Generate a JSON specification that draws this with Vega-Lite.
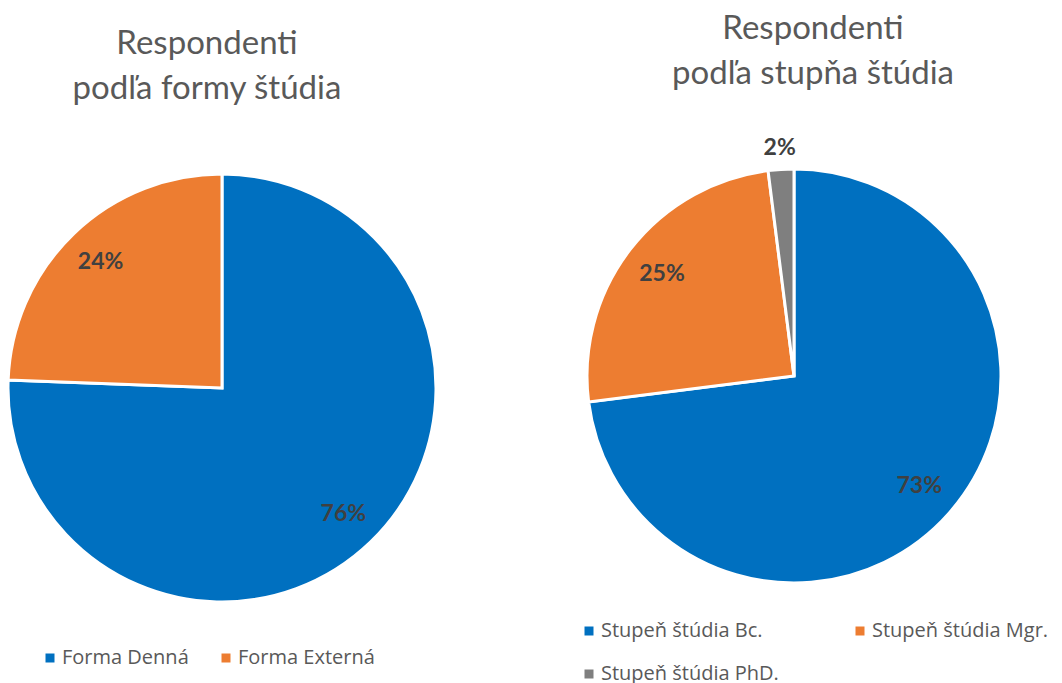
{
  "$schema": "https://vega.github.io/schema/vega-lite/v6.json",
  "background": "white",
  "padding": {"top": 13, "left": 0, "right": 0, "bottom": 0},
  "spacing": 135,
  "config": {"view": {"stroke": null}},
  "resolve": {"scale": {"color": "independent", "theta": "independent"}, "legend": {"color": "independent"}},
  "hconcat": [
    {
      "width": 444,
      "height": 454,
      "title": {"text": ["Respondenti", "podľa formy štúdia"], "font": "Lato", "fontSize": 33, "fontWeight": "normal", "color": "#595959", "lineHeight": 45, "anchor": "middle", "dx": -15, "offset": 55},
      "data": {"values": [
        {"forma": "Forma Denná", "podiel": 0.756},
        {"forma": "Forma Externá", "podiel": 0.244}
      ]},
      "encoding": {
        "theta": {"field": "podiel", "type": "quantitative", "stack": true},
        "order": {"field": "forma", "type": "ordinal", "sort": "ascending"},
        "color": {
          "field": "forma", "type": "nominal",
          "scale": {"domain": ["Forma Denná", "Forma Externá"], "range": ["#0070C0", "#ED7D31"]},
          "legend": {"orient": "none", "legendX": 40, "legendY": 487, "direction": "horizontal", "title": null, "symbolType": "square", "symbolSize": 81, "symbolStrokeWidth": 0, "labelFontSize": 20, "labelFont": "Open Sans", "labelColor": "#595959", "columnPadding": 27, "labelOffset": 2, "padding": 0, "labelLimit": 300}
        }
      },
      "layer": [
        {"mark": {"type": "arc", "outerRadius": 214, "stroke": "white", "strokeWidth": 3}},
        {
          "mark": {"type": "text", "radius": 175, "font": "Lato", "fontWeight": "bold", "fontSize": 23},
          "encoding": {
            "text": {"field": "podiel", "type": "quantitative", "format": ".0%"},
            "detail": {"field": "forma", "type": "nominal"},
            "color": {"value": "#404040"}
          }
        }
      ]
    },
    {
      "width": 420,
      "height": 430,
      "title": {"text": ["Respondenti", "podľa stupňa štúdia"], "font": "Lato", "fontSize": 33, "fontWeight": "normal", "color": "#595959", "lineHeight": 45, "anchor": "middle", "dx": 19, "offset": 46},
      "data": {"values": [
        {"stupen": "Stupeň štúdia Bc.", "podiel": 0.73},
        {"stupen": "Stupeň štúdia Mgr.", "podiel": 0.25},
        {"stupen": "Stupeň štúdia PhD.", "podiel": 0.02}
      ]},
      "encoding": {
        "theta": {"field": "podiel", "type": "quantitative", "stack": true},
        "order": {"field": "stupen", "type": "ordinal", "sort": "ascending"},
        "color": {
          "field": "stupen", "type": "nominal",
          "scale": {"domain": ["Stupeň štúdia Bc.", "Stupeň štúdia Mgr.", "Stupeň štúdia PhD."], "range": ["#0070C0", "#ED7D31", "#7F7F7F"]},
          "legend": {"orient": "none", "legendX": -5, "legendY": 460, "direction": "horizontal", "columns": 2, "title": null, "symbolType": "square", "symbolSize": 81, "symbolStrokeWidth": 0, "labelFontSize": 20, "labelFont": "Open Sans", "labelColor": "#595959", "columnPadding": 71, "rowPadding": 23, "labelOffset": 2, "padding": 0, "labelLimit": 300}
        }
      },
      "layer": [
        {"mark": {"type": "arc", "outerRadius": 207, "stroke": "white", "strokeWidth": 3}},
        {
          "mark": {"type": "text", "radius": 167, "font": "Lato", "fontWeight": "bold", "fontSize": 23},
          "encoding": {
            "text": {"field": "podiel", "type": "quantitative", "format": ".0%"},
            "detail": {"field": "stupen", "type": "nominal"},
            "color": {"value": "#404040"},
            "opacity": {"condition": {"test": "datum.podiel >= 0.05", "value": 1}, "value": 0}
          }
        },
        {
          "mark": {"type": "text", "radius": 228, "font": "Lato", "fontWeight": "bold", "fontSize": 23},
          "encoding": {
            "text": {"field": "podiel", "type": "quantitative", "format": ".0%"},
            "detail": {"field": "stupen", "type": "nominal"},
            "color": {"value": "#404040"},
            "opacity": {"condition": {"test": "datum.podiel < 0.05", "value": 1}, "value": 0}
          }
        }
      ]
    }
  ]
}
